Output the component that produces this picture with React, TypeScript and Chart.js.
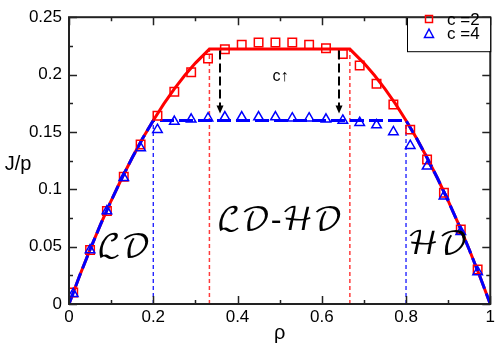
import React, { useEffect, useRef } from "react";
import { Chart, registerables } from "chart.js";
Chart.register(...registerables);

// Simulation data (density rho, current J/p)
const rho = [0.01, 0.05, 0.09, 0.13, 0.17, 0.21, 0.25, 0.29, 0.33, 0.37, 0.41, 0.45, 0.49, 0.53, 0.57, 0.61, 0.65, 0.69, 0.73, 0.77, 0.81, 0.85, 0.89, 0.93, 0.97];
const currentC2 = [0.010, 0.047, 0.081, 0.111, 0.139, 0.164, 0.185, 0.202, 0.214, 0.222, 0.226, 0.228, 0.228, 0.228, 0.226, 0.223, 0.218, 0.208, 0.192, 0.174, 0.152, 0.126, 0.097, 0.065, 0.030];
const currentC4 = [0.009, 0.047, 0.081, 0.110, 0.136, 0.152, 0.159, 0.161, 0.162, 0.163, 0.163, 0.163, 0.163, 0.162, 0.162, 0.161, 0.160, 0.158, 0.156, 0.150, 0.138, 0.120, 0.094, 0.063, 0.028];

// Mean-field curves
const theoryRhoC2 = [0, 0.025, 0.05, 0.075, 0.1, 0.125, 0.15, 0.175, 0.2, 0.225, 0.25, 0.275, 0.3, 0.3333, 0.6667, 0.7, 0.725, 0.75, 0.775, 0.8, 0.825, 0.85, 0.875, 0.9, 0.925, 0.95, 0.975, 1];
const theoryJC2 = [0, 0.0244, 0.0475, 0.0694, 0.09, 0.1094, 0.1275, 0.1444, 0.16, 0.1744, 0.1875, 0.1994, 0.21, 0.2222, 0.2222, 0.21, 0.1994, 0.1875, 0.1744, 0.16, 0.1444, 0.1275, 0.1094, 0.09, 0.0694, 0.0475, 0.0244, 0];
const theoryRhoC4 = [0, 0.025, 0.05, 0.075, 0.1, 0.125, 0.15, 0.175, 0.2, 0.8, 0.825, 0.85, 0.875, 0.9, 0.925, 0.95, 0.975, 1];
const theoryJC4 = [0, 0.0244, 0.0475, 0.0694, 0.09, 0.1094, 0.1275, 0.1444, 0.16, 0.16, 0.1444, 0.1275, 0.1094, 0.09, 0.0694, 0.0475, 0.0244, 0];

// Phase boundaries
const boundaryRhoC2 = [0.3333, 0.6667];
const boundaryJC2 = 0.2222;
const boundaryRhoC4 = [0.2, 0.8];
const boundaryJC4 = 0.16;

// Arrows indicating increasing c
const arrowRho = [0.358, 0.641];
const arrowFromJ = 0.221;
const arrowToJ = 0.166;

// Axis ticks
const xTicks = [0, 0.2, 0.4, 0.6, 0.8, 1];
const xMinor = [0.1, 0.3, 0.5, 0.7, 0.9];
const yTicks = [0, 0.05, 0.1, 0.15, 0.2, 0.25];
const yMinor = [0.025, 0.075, 0.125, 0.175, 0.225];

// Labels
const legendLabels = ["c =2", "c =4"];
const regionLabels = ["\u2112\uD835\uDC9F", "\u2112\uD835\uDC9F-\u210B\uD835\uDC9F", "\u210B\uD835\uDC9F"];
const regionRho = [0.13, 0.5, 0.875];
const regionJ = [0.049, 0.073, 0.052];

const RED = "#ff0000";
const BLUE = "#0000ff";
const FONT = '"Liberation Sans", Arial, sans-serif';

const pts = (xs: number[], ys: number[]) => xs.map((x, i) => ({ x, y: ys[i] }));
const vline = (x: number, top: number) => [{ x, y: 0 }, { x, y: top }];

const overlay = {
  id: "overlay",
  afterDatasetsDraw(chart: any) {
    const { ctx, scales } = chart;
    const x = scales.x, y = scales.y;
    ctx.save();
    // arrows
    arrowRho.forEach((r) => {
      const px = Math.round(x.getPixelForValue(r));
      const y0 = y.getPixelForValue(arrowFromJ);
      const y1 = y.getPixelForValue(arrowToJ);
      ctx.strokeStyle = "#000";
      ctx.lineWidth = 2;
      ctx.setLineDash([9, 4]);
      ctx.beginPath();
      ctx.moveTo(px, y0);
      ctx.lineTo(px, y1 - 6);
      ctx.stroke();
      ctx.setLineDash([]);
      ctx.fillStyle = "#000";
      ctx.beginPath();
      ctx.moveTo(px - 3.5, y1 - 8);
      ctx.lineTo(px + 3.5, y1 - 8);
      ctx.lineTo(px, y1);
      ctx.closePath();
      ctx.fill();
    });
    // c arrow text
    ctx.fillStyle = "#000";
    ctx.font = `16px ${FONT}`;
    ctx.textAlign = "center";
    ctx.textBaseline = "middle";
    ctx.fillText("c\u2191", x.getPixelForValue(0.502), y.getPixelForValue(0.1985));
    // region labels
    ctx.font = `32px "DejaVu Math TeX Gyre", "DejaVu Serif", serif`;
    regionLabels.forEach((t, i) => {
      ctx.fillText(t, x.getPixelForValue(regionRho[i]), y.getPixelForValue(regionJ[i]));
    });
    ctx.restore();
  },
  afterDraw(chart: any) {
    const { ctx, chartArea: a, scales } = chart;
    const x = scales.x, y = scales.y;
    ctx.save();
    ctx.strokeStyle = "#222";
    ctx.lineWidth = 2;
    ctx.setLineDash([]);
    ctx.strokeRect(a.left, a.top, a.right - a.left, a.bottom - a.top);
    ctx.lineWidth = 1.5;
    const tick = (vals: number[], len: number) => {
      vals.forEach((v) => {
        const px = Math.round(x.getPixelForValue(v)) + 0.5;
        ctx.beginPath();
        ctx.moveTo(px, a.bottom); ctx.lineTo(px, a.bottom - len);
        ctx.moveTo(px, a.top); ctx.lineTo(px, a.top + len);
        ctx.stroke();
      });
    };
    const ytick = (vals: number[], len: number) => {
      vals.forEach((v) => {
        const py = Math.round(y.getPixelForValue(v)) + 0.5;
        ctx.beginPath();
        ctx.moveTo(a.left, py); ctx.lineTo(a.left + len, py);
        ctx.moveTo(a.right, py); ctx.lineTo(a.right - len, py);
        ctx.stroke();
      });
    };
    tick(xTicks, 8);
    tick(xMinor, 4);
    ytick(yTicks, 8);
    ytick(yMinor, 4);

    // axis titles
    ctx.fillStyle = "#000";
    ctx.font = `20px ${FONT}`;
    ctx.textAlign = "center";
    ctx.textBaseline = "middle";
    ctx.fillText("J/p", 18, (a.top + a.bottom) / 2 + 4);
    ctx.textBaseline = "alphabetic";
    ctx.fillText("\u03C1", (a.left + a.right) / 2, 339);

    // legend
    const lx = 407, ly = a.top, lw = a.right - 407, lh = 34;
    ctx.fillStyle = "#fff";
    ctx.fillRect(lx, ly, lw, lh);
    ctx.strokeStyle = "#000";
    ctx.lineWidth = 1;
    ctx.strokeRect(lx + 0.5, ly + 0.5, lw, lh);
    ctx.lineWidth = 1.5;
    ctx.strokeStyle = RED;
    ctx.strokeRect(425.5, 15.5, 7, 7);
    ctx.strokeStyle = BLUE;
    ctx.beginPath();
    ctx.moveTo(429, 29); ctx.lineTo(433.5, 37.5); ctx.lineTo(424.5, 37.5); ctx.closePath();
    ctx.stroke();
    ctx.fillStyle = "#000";
    ctx.font = `17px ${FONT}`;
    ctx.textAlign = "left";
    ctx.textBaseline = "middle";
    ctx.fillText(legendLabels[0], 447, 20);
    ctx.fillText(legendLabels[1], 447, 34);
    ctx.restore();
  },
};

export default function App() {
  const ref = useRef<HTMLCanvasElement | null>(null);
  useEffect(() => {
    document.body.style.margin = "0";
    const chart = new Chart(ref.current as HTMLCanvasElement, {
      type: "scatter",
      data: {
        datasets: [
          { label: "bC2a", data: vline(boundaryRhoC2[0], boundaryJC2), showLine: true, borderColor: "#ff3b3b", borderWidth: 1.5, borderDash: [4, 3], pointRadius: 0, order: 6 },
          { label: "bC2b", data: vline(boundaryRhoC2[1], boundaryJC2), showLine: true, borderColor: "#ff3b3b", borderWidth: 1.5, borderDash: [4, 3], pointRadius: 0, order: 6 },
          { label: "bC4a", data: vline(boundaryRhoC4[0], boundaryJC4), showLine: true, borderColor: BLUE, borderWidth: 1.2, borderDash: [4, 3], pointRadius: 0, order: 6 },
          { label: "bC4b", data: vline(boundaryRhoC4[1], boundaryJC4), showLine: true, borderColor: BLUE, borderWidth: 1.2, borderDash: [4, 3], pointRadius: 0, order: 6 },
          { label: "theory c=2", data: pts(theoryRhoC2, theoryJC2), showLine: true, borderColor: RED, borderWidth: 3, pointRadius: 0, tension: 0, order: 5 },
          { label: "theory c=4", data: pts(theoryRhoC4, theoryJC4), showLine: true, borderColor: BLUE, borderWidth: 3, borderDash: [14, 5], pointRadius: 0, tension: 0, order: 4 },
          { label: "c =2", data: pts(rho, currentC2), showLine: false, pointStyle: "rect", pointRadius: 6, borderColor: RED, backgroundColor: "rgba(0,0,0,0)", borderWidth: 1.5, order: 3 },
          { label: "c =4", data: pts(rho, currentC4), showLine: false, pointStyle: "triangle", pointRadius: 5.5, borderColor: BLUE, backgroundColor: "rgba(0,0,0,0)", borderWidth: 1.5, order: 2 },
        ],
      },
      options: {
        animation: false,
        responsive: true,
        maintainAspectRatio: false,
        layout: { padding: { top: 9, right: 7, left: 0, bottom: 0 } },
        plugins: { legend: { display: false }, tooltip: { enabled: false } },
        scales: {
          x: {
            type: "linear", min: 0, max: 1,
            grid: { display: false, drawTicks: false },
            border: { display: false },
            afterBuildTicks: (s: any) => { s.ticks = xTicks.map((v) => ({ value: v })); },
            afterFit: (s: any) => { s.height = 43; },
            ticks: { padding: 3, color: "#000", font: { family: FONT, size: 17 }, maxRotation: 0, callback: (v: any) => String(v) },
          },
          y: {
            type: "linear", min: 0, max: 0.25,
            grid: { display: false, drawTicks: false },
            border: { display: false },
            afterBuildTicks: (s: any) => { s.ticks = yTicks.map((v) => ({ value: v })); },
            afterFit: (s: any) => { s.width = 69; },
            ticks: { padding: 7, color: "#000", font: { family: FONT, size: 17 }, callback: (v: any) => String(v) },
          },
        },
      },
      plugins: [overlay],
    });
    return () => chart.destroy();
  }, []);
  return (
    <div style={{ position: "fixed", left: 0, top: 0, width: 498, height: 347, background: "#fff" }}>
      <canvas ref={ref} />
    </div>
  );
}
